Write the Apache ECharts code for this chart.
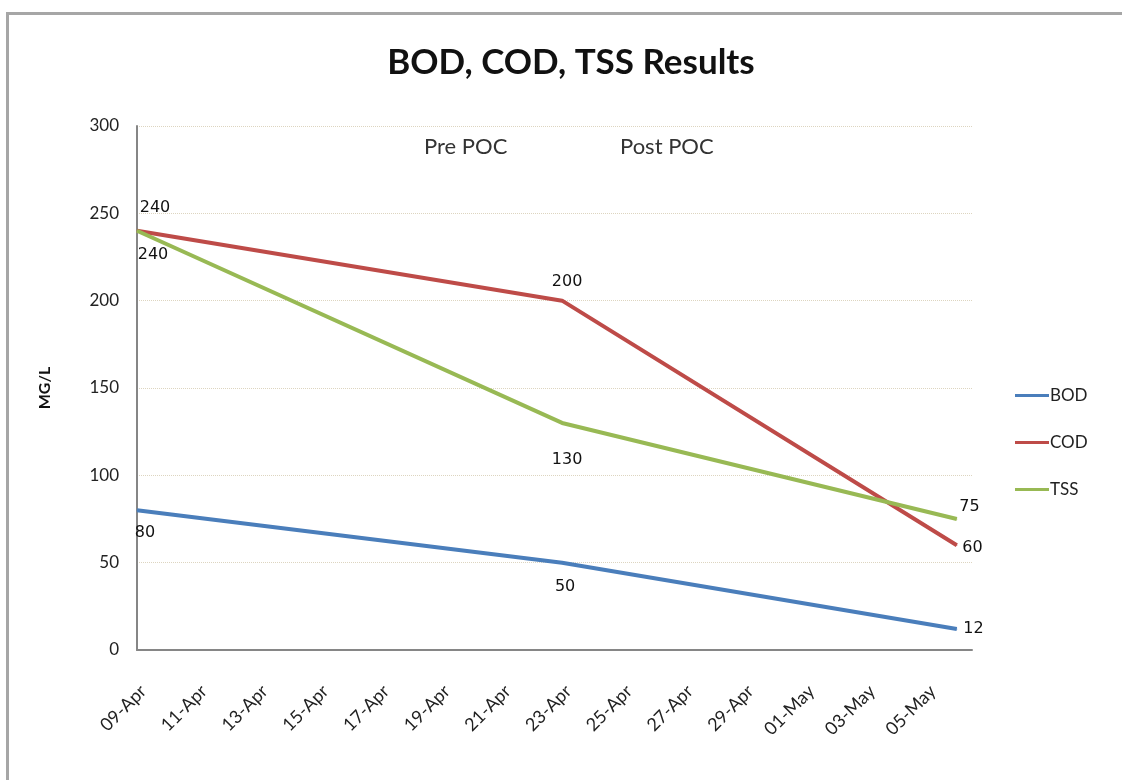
<!DOCTYPE html>
<html>
<head>
<meta charset="utf-8">
<script src="https://cdn.jsdelivr.net/npm/echarts@6/dist/echarts.min.js"></script>
<style>html,body{margin:0;padding:0;background:#fff}#c{width:1122px;height:780px}</style>
</head>
<body>
<div id="c"></div>
<script>
// Data
const pointDates = ['09-Apr', '23-Apr', '06-May'];
const dayOffsets = [0, 14, 27]; // days since 09-Apr
const bodValues = [80, 50, 12];
const codValues = [240, 200, 60];
const tssValues = [240, 130, 75];
const tickLabels = ['09-Apr','11-Apr','13-Apr','15-Apr','17-Apr','19-Apr','21-Apr','23-Apr','25-Apr','27-Apr','29-Apr','01-May','03-May','05-May'];
const seriesNames = ['BOD', 'COD', 'TSS'];
const colors = ['#4a7ebb', '#be4b48', '#98b954'];

const labelFont = { fontFamily: 'DejaVu Sans', fontSize: 16, color: '#111' };
const labelCfg = {
  BOD: [{position:'bottom', distance:14, offset:[8,0]}, {position:'bottom', distance:16, offset:[3,0]}, {position:'right', distance:6, offset:[0,0]}],
  COD: [{position:'top', distance:14, offset:[18,0]}, {position:'top', distance:10, offset:[5,0]}, {position:'right', distance:5, offset:[0,3]}],
  TSS: [{position:'bottom', distance:16, offset:[16,0]}, {position:'bottom', distance:28, offset:[5,0]}, {position:'right', distance:2, offset:[0,-12]}]
};
function build(name, vals) {
  return vals.map((v, i) => ({
    value: [dayOffsets[i], v],
    label: Object.assign({ show: true, formatter: String(v) }, labelFont, labelCfg[name][i])
  }));
}
const allVals = [bodValues, codValues, tssValues];

const chart = echarts.init(document.getElementById('c'), null, { renderer: 'canvas' });
chart.setOption({
  backgroundColor: '#fff',
  animation: false,
  title: {
    text: 'BOD, COD, TSS Results',
    left: 566, top: 40, textAlign: 'center',
    textStyle: { fontFamily: 'Lato', fontWeight: 'bold', fontSize: 35, color: '#111' }
  },
  legend: {
    orient: 'vertical', left: 1010, top: 382,
    itemWidth: 34, itemHeight: 3, itemGap: 30, icon: 'rect',
    textStyle: { fontFamily: 'Lato', fontSize: 17, color: '#222', padding: [0,0,0,-4] },
    data: seriesNames
  },
  grid: { left: 137, top: 126, right: 150, bottom: 130, containLabel: false },
  xAxis: {
    type: 'value', min: 0, max: 27.5, interval: 2,
    axisLine: { show: true, lineStyle: { color: '#868686', width: 2 } },
    axisTick: { show: false },
    splitLine: { show: false },
    axisLabel: {
      rotate: 45, margin: 32, showMaxLabel: false, verticalAlign: 'top',
      fontFamily: 'Lato', fontSize: 18, color: '#222',
      formatter: v => (v % 2 === 0 && tickLabels[v / 2] !== undefined) ? tickLabels[v / 2] : ''
    }
  },
  yAxis: {
    type: 'value', min: 0, max: 300, interval: 50,
    name: 'MG/L', nameLocation: 'middle', nameRotate: 90, nameGap: 84,
    nameTextStyle: { fontFamily: 'Lato', fontWeight: 'bold', fontSize: 16, color: '#111' },
    axisLine: { show: true, lineStyle: { color: '#868686', width: 2 } },
    axisTick: { show: false },
    axisLabel: { margin: 18, fontFamily: 'Lato', fontSize: 17, color: '#222' },
    splitLine: { show: true, lineStyle: { color: '#ddd5c0', type: 'dotted', width: 1 } }
  },
  series: seriesNames.map((n, i) => ({
    name: n, type: 'line',
    data: build(n, allVals[i]),
    symbol: 'circle', symbolSize: 1, showSymbol: true,
    lineStyle: { color: colors[i], width: 4 },
    itemStyle: { color: colors[i] },
    z: 3 + i
  })),
  graphic: [
    { type: 'text', left: 424, top: 136, style: { text: 'Pre POC', font: '22px Lato', fill: '#333' } },
    { type: 'text', left: 620, top: 136, style: { text: 'Post POC', font: '22px Lato', fill: '#333' } },
    { type: 'rect', shape: { x: 6, y: 12, width: 1116, height: 3 }, style: { fill: '#a6a6a6' } },
    { type: 'rect', shape: { x: 6, y: 12, width: 3, height: 768 }, style: { fill: '#a6a6a6' } }
  ]
});
</script>
</body>
</html>
